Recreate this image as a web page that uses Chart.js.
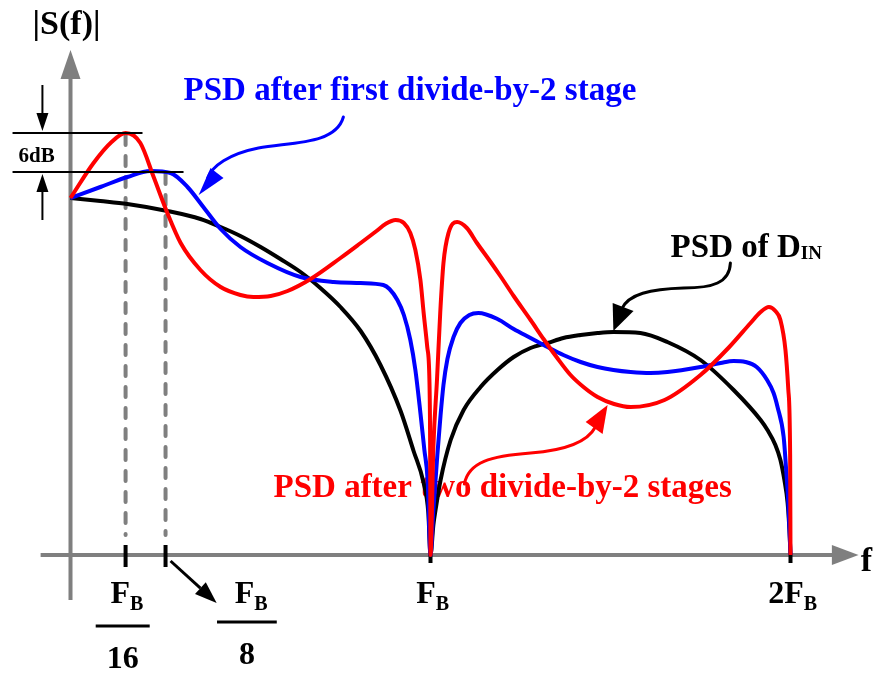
<!DOCTYPE html>
<html>
<head>
<meta charset="utf-8">
<script src="https://cdn.jsdelivr.net/npm/chart.js@4.4.0/dist/chart.umd.min.js"></script>
<style>
  body { margin: 0; background: #fff; }
  canvas { display: block; }
</style>
</head>
<body>
<canvas id="psd" width="878" height="675"></canvas>
<script>
//---------------------------------------
// Data  (frequency in units of F_B, level = relative |S(f)|)
//---------------------------------------

// PSD of D_IN
const dinFreq  = [0, 0.083, 0.158, 0.269, 0.361, 0.417, 0.472, 0.528, 0.583, 0.639, 0.694, 0.75, 0.806, 0.861, 0.917, 0.953, 0.981, 0.994, 1.0,
                  1.008, 1.014, 1.028, 1.056, 1.092, 1.139, 1.186, 1.231, 1.278, 1.325, 1.369, 1.417, 1.464, 1.508, 1.583, 1.658, 1.75, 1.842, 1.917, 1.936, 1.958, 1.972, 1.983, 1.992, 1.997, 2.0];
const dinLevel = [357, 354, 351, 344, 336, 328, 319, 308, 296, 283, 267, 248, 224, 190, 144, 104, 72, 42, 0,
                  30, 45, 75, 115, 145, 168, 185, 198, 207, 212, 217, 220, 222, 223, 222, 213, 195, 165, 135, 125, 110, 95, 75, 52, 25, 0];

// PSD after first divide-by-2 stage
const oneStageFreq  = [0, 0.083, 0.158, 0.222, 0.278, 0.325, 0.369, 0.417, 0.472, 0.547, 0.639, 0.731, 0.806, 0.869, 0.886, 0.908, 0.926, 0.944, 0.958, 0.972, 0.983, 0.992, 1.0,
                       1.008, 1.019, 1.028, 1.036, 1.047, 1.064, 1.083, 1.108, 1.133, 1.186, 1.231, 1.278, 1.325, 1.369, 1.417, 1.464, 1.508, 1.556, 1.611, 1.658, 1.75, 1.806, 1.842, 1.875, 1.906, 1.935, 1.953, 1.964, 1.981, 1.988, 1.994, 2.0];
const oneStageLevel = [357, 368, 378, 384, 382, 368, 348, 326, 308, 292, 278, 273, 272, 270, 266, 255, 240, 215, 185, 142, 105, 75, 0,
                       45, 100, 140, 170, 196, 218, 232, 240, 242, 236, 226, 217, 208, 200, 193, 188, 185, 183, 182, 183, 188, 192, 194, 193, 188, 175, 162, 148, 118, 85, 52, 0];

// PSD after two divide-by-2 stages
const twoStageFreq  = [0, 0.064, 0.114, 0.153, 0.194, 0.231, 0.269, 0.306, 0.361, 0.417, 0.472, 0.508, 0.556, 0.603, 0.667, 0.75, 0.806, 0.85, 0.875, 0.903, 0.926, 0.944, 0.958, 0.972, 0.981, 0.991, 0.997, 0.999, 1.0,
                       1.008, 1.018, 1.027, 1.036, 1.05, 1.074, 1.101, 1.129, 1.167, 1.194, 1.231, 1.278, 1.314, 1.35, 1.389, 1.425, 1.464, 1.51, 1.556, 1.65, 1.75, 1.83, 1.889, 1.917, 1.94, 1.958, 1.972, 1.986, 1.994, 1.999, 2.0];
const twoStageLevel = [357, 392, 413, 422, 412, 378, 342, 312, 285, 268, 260, 258, 259, 264, 276, 297, 312, 324, 331, 335, 332, 322, 305, 275, 242, 208, 175, 110, 0,
                       108, 175, 242, 292, 322, 333, 327, 312, 293, 279, 259, 235, 216, 198, 180, 168, 158, 151, 148, 155, 180, 208, 232, 243, 248, 244, 235, 205, 165, 100, 0];

// dashed guide frequencies and their labels (F_B / n)
const markerFreq  = [0.153, 0.264];
const markerDenom = ['16', '8'];

// labelled axis frequencies
const axisTickFreq = [1, 2];
const axisTickText = ['F', '2F'];

//---------------------------------------
// Drawing helpers
//---------------------------------------

const SERIF = '"Liberation Serif", "Times New Roman", serif';
const GRAY = '#7f7f7f';

function pts(freq, level) {
  return freq.map((f, i) => ({x: f, y: level[i]}));
}

function P(chart, f, v) {
  return [chart.scales.x.getPixelForValue(f), chart.scales.y.getPixelForValue(v)];
}

function line(ctx, a, b, color, width, dash, cap) {
  ctx.save();
  ctx.strokeStyle = color;
  ctx.lineWidth = width;
  ctx.lineCap = cap || 'butt';
  ctx.setLineDash(dash || []);
  ctx.beginPath();
  ctx.moveTo(a[0], a[1]);
  ctx.lineTo(b[0], b[1]);
  ctx.stroke();
  ctx.restore();
}

function tri(ctx, a, b, c, color) {
  ctx.fillStyle = color;
  ctx.beginPath();
  ctx.moveTo(a[0], a[1]);
  ctx.lineTo(b[0], b[1]);
  ctx.lineTo(c[0], c[1]);
  ctx.closePath();
  ctx.fill();
}

// straight arrow with a filled head
function arrow(ctx, from, tip, color, width, len, half) {
  const dx = tip[0] - from[0], dy = tip[1] - from[1];
  const d = Math.hypot(dx, dy), ux = dx / d, uy = dy / d;
  const base = [tip[0] - ux * len, tip[1] - uy * len];
  line(ctx, from, base, color, width);
  tri(ctx, tip, [base[0] - uy * half, base[1] + ux * half], [base[0] + uy * half, base[1] - ux * half], color);
}

function text(ctx, s, x, y, size, color, align) {
  ctx.font = 'bold ' + size + 'px ' + SERIF;
  ctx.fillStyle = color;
  ctx.textAlign = align || 'left';
  ctx.textBaseline = 'alphabetic';
  ctx.fillText(s, x, y);
}

// main text + subscript, anchored left or centred
function subText(ctx, main, sub, x, y, size, subSize, drop, color, align) {
  ctx.font = 'bold ' + size + 'px ' + SERIF;
  const w1 = ctx.measureText(main).width;
  ctx.font = 'bold ' + subSize + 'px ' + SERIF;
  const w2 = ctx.measureText(sub).width;
  let x0 = align === 'center' ? x - (w1 + w2) / 2 : x;
  text(ctx, main, x0, y, size, color, 'left');
  text(ctx, sub, x0 + w1, y + drop, subSize, color, 'left');
}

function curvedArrow(chart, c, color, width) {
  const ctx = chart.ctx;
  const p = c.path.map(q => P(chart, q[0], q[1]));
  ctx.save();
  ctx.strokeStyle = color;
  ctx.lineWidth = width;
  ctx.lineCap = 'round';
  ctx.beginPath();
  ctx.moveTo(p[0][0], p[0][1]);
  for (let i = 1; i + 2 < p.length; i += 3) {
    ctx.bezierCurveTo(p[i][0], p[i][1], p[i + 1][0], p[i + 1][1], p[i + 2][0], p[i + 2][1]);
  }
  ctx.stroke();
  const h = c.head.map(q => P(chart, q[0], q[1]));
  tri(ctx, h[0], h[1], h[2], color);
  ctx.restore();
}

//---------------------------------------
// Plugin: axes, guides, labels, call-outs
//---------------------------------------

const diagramPlugin = {
  id: 'diagram',
  beforeDatasetsDraw(chart) {
    const ctx = chart.ctx;
    ctx.save();
    // axes
    const o = P(chart, 0, 0);
    line(ctx, P(chart, 0, -45), P(chart, 0, 478), GRAY, 4);
    tri(ctx, P(chart, 0, 505), [o[0] - 10, P(chart, 0, 476)[1]], [o[0] + 10, P(chart, 0, 476)[1]], GRAY);
    line(ctx, P(chart, -0.083, 0), P(chart, 2.12, 0), GRAY, 4);
    const xt = P(chart, 2.189, 0), xb = P(chart, 2.115, 0);
    tri(ctx, xt, [xb[0], xb[1] - 10], [xb[0], xb[1] + 10], GRAY);

    // dashed guides from the peaks down to the axis
    const guideTop = [420, 381];
    markerFreq.forEach((f, i) => {
      line(ctx, P(chart, f, guideTop[i]), P(chart, f, 20), GRAY, 4, [10, 11], 'round');
      line(ctx, P(chart, f, 10), P(chart, f, -12), '#000', 4);
    });
    axisTickFreq.forEach(f => line(ctx, P(chart, f, 0), P(chart, f, -8), '#000', 4));

    // red call-out sits under the curves
    const q = P(chart, 0.564, 58);
    text(ctx, 'PSD after two divide-by-2 stages', q[0], q[1], 33, '#ff0000');
    ctx.restore();
  },
  afterDatasetsDraw(chart) {
    const ctx = chart.ctx;
    ctx.save();

    // 6dB bracket
    line(ctx, P(chart, -0.161, 422), P(chart, 0.2, 422), '#000', 2);
    line(ctx, P(chart, -0.161, 383), P(chart, 0.314, 383), '#000', 2);
    arrow(ctx, P(chart, -0.078, 470), P(chart, -0.078, 424), '#000', 2, 18, 6);
    arrow(ctx, P(chart, -0.078, 335), P(chart, -0.078, 381), '#000', 2, 18, 6);
    let q = P(chart, -0.094, 393);
    text(ctx, '6dB', q[0], q[1], 21, '#000', 'center');

    // axis titles
    q = P(chart, -0.011, 521);
    text(ctx, '|S(f)|', q[0], q[1], 34, '#000', 'center');
    q = P(chart, 2.211, -16);
    text(ctx, 'f', q[0], q[1], 34, '#000', 'center');

    // F_B and 2F_B
    axisTickFreq.forEach((f, i) => {
      q = P(chart, f + 0.006, -48);
      subText(ctx, axisTickText[i], 'B', q[0], q[1], 32, 20, 7, '#000', 'center');
    });

    // F_B/16 and F_B/8 fractions
    const fracCenter = [0.145, 0.49];
    const fracHalf = [0.075, 0.083];
    const barLevel = [-71, -67];
    markerDenom.forEach((d, i) => {
      q = P(chart, fracCenter[i] + 0.012, -48);
      subText(ctx, 'F', 'B', q[0], q[1], 32, 20, 7, '#000', 'center');
      line(ctx, P(chart, fracCenter[i] - fracHalf[i], barLevel[i]), P(chart, fracCenter[i] + fracHalf[i], barLevel[i]), '#000', 3);
      q = P(chart, fracCenter[i], barLevel[i] - 42);
      text(ctx, d, q[0], q[1], 32, '#000', 'center');
    });
    arrow(ctx, P(chart, 0.278, -6), P(chart, 0.406, -48), '#000', 3, 22, 8);

    // series call-outs
    q = P(chart, 0.314, 455);
    text(ctx, 'PSD after first divide-by-2 stage', q[0], q[1], 33, '#0000ff');
    q = P(chart, 1.667, 298);
    subText(ctx, 'PSD of D', 'IN', q[0], q[1], 33, 19, 2, '#000', 'left');

    curvedArrow(chart, {
      path: [[0.758, 438], [0.736, 410], [0.611, 413], [0.522, 407], [0.439, 401], [0.394, 389], [0.381, 377]],
      head: [[0.356, 360], [0.389, 387], [0.425, 377]]
    }, '#0000ff', 3);
    curvedArrow(chart, {
      path: [[1.833, 292], [1.831, 272], [1.783, 267], [1.703, 267], [1.611, 266], [1.55, 261], [1.531, 246]],
      head: [[1.508, 224], [1.506, 252], [1.564, 244]]
    }, '#000', 3);
    curvedArrow(chart, {
      path: [[1.094, 71], [1.106, 93], [1.167, 99], [1.278, 102], [1.389, 105], [1.439, 115], [1.458, 128]],
      head: [[1.492, 150], [1.431, 133], [1.478, 121]]
    }, '#ff0000', 3);

    ctx.restore();
  }
};

//---------------------------------------
// Chart
//---------------------------------------

const common = {
  borderWidth: 4,
  pointRadius: 0,
  fill: false,
  cubicInterpolationMode: 'monotone',
  clip: false
};

new Chart(document.getElementById('psd'), {
  type: 'line',
  data: {
    datasets: [
      Object.assign({label: 'PSD after two divide-by-2 stages', data: pts(twoStageFreq, twoStageLevel), borderColor: '#ff0000'}, common),
      Object.assign({label: 'PSD after first divide-by-2 stage', data: pts(oneStageFreq, oneStageLevel), borderColor: '#0000ff'}, common),
      Object.assign({label: 'PSD of D_IN', data: pts(dinFreq, dinLevel), borderColor: '#000000'}, common)
    ]
  },
  options: {
    responsive: false,
    animation: false,
    devicePixelRatio: 1,
    layout: {padding: 0},
    plugins: {legend: {display: false}, tooltip: {enabled: false}},
    scales: {
      x: {type: 'linear', display: false, min: -70.5 / 360, max: 807.5 / 360},
      y: {type: 'linear', display: false, min: -120, max: 555}
    }
  },
  plugins: [diagramPlugin]
});
</script>
</body>
</html>
